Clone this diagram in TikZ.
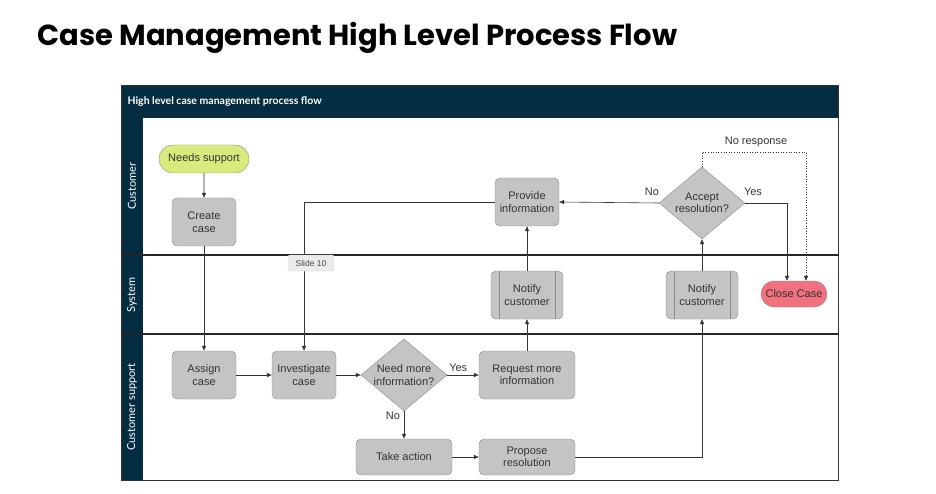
\documentclass[tikz,border=0pt]{standalone}
\usepackage{fontspec}
\setmainfont{Liberation Sans}
\newfontfamily\titlefont{Poppins}
\newfontfamily\lanefont{Lato}
\usetikzlibrary{shapes.geometric,shapes.misc,arrows.meta}
\definecolor{navy}{HTML}{052D42}
\definecolor{boxg}{HTML}{C4C4C4}
\definecolor{boxd}{HTML}{8A8A8A}
\definecolor{startc}{HTML}{D7EB7C}
\definecolor{endc}{HTML}{F2717F}
\begin{document}
\begin{tikzpicture}[x=1pt,y=-1pt,
  txt/.style={font=\fontsize{11}{12.5}\selectfont,text=black!80},
  box/.style={txt,draw=boxd,fill=boxg,rounded corners=5pt,minimum width=64pt,minimum height=48pt,align=center,inner sep=1pt},
  term/.style={txt,draw=boxd,rounded rectangle,minimum height=28pt,inner sep=3pt},
  dia/.style={txt,draw=boxd,fill=boxg,diamond,aspect=1.2,minimum width=86pt,minimum height=72pt,inner sep=0pt,align=center},
  arr/.style={draw=black!80,-{Triangle[length=5pt,width=4pt]},line width=0.6pt},
  lbl/.style={txt},
  lane/.style={font=\lanefont\fontsize{11}{12}\selectfont,text=white,rotate=90}]
\useasboundingbox (0,0) rectangle (936,494);
% title
\node[anchor=west,font=\titlefont\bfseries\fontsize{29}{32}\selectfont] (title) at (34,38) {Case Management High Level Process Flow};
% frame
\fill[navy] (121,85) rectangle (838,118);
\fill[navy] (121,118) rectangle (143,480);
\draw[line width=0.8pt,black!80] (121,85) rectangle (838,480);
\draw[line width=1.2pt,black!85] (121,255) -- (838,255);
\draw[line width=1.2pt,black!85] (121,334) -- (838,334);
\node[anchor=west,text=white,font=\lanefont\bfseries\fontsize{10.5}{12}\selectfont] (hdr) at (124,102) {High level case management process flow};
\node[lane] (l1) at (132,186) {Customer};
\node[lane] (l2) at (132,295) {System};
\node[lane] (l3) at (132,407) {Customer support};
% nodes
\node[term,fill=startc,minimum width=96pt] (needs) at (204,159) {Needs support};
\node[box] (create) at (204,222) {Create\\case};
\node[box] (provide) at (527,202) {Provide\\information};
\node[dia] (accept) at (702,203) {Accept\\resolution?};
\node[box,minimum width=72pt] (notify1) at (527,295) {Notify\\customer};
\node[box,minimum width=72pt] (notify2) at (702,295) {Notify\\customer};
\foreach \n in {notify1,notify2}{
  \draw[boxd] ([xshift=8pt]\n.north west) -- ([xshift=8pt]\n.south west);
  \draw[boxd] ([xshift=-8pt]\n.north east) -- ([xshift=-8pt]\n.south east);}
\node[term,fill=endc,minimum width=72pt,minimum height=26pt] (close) at (794,294) {Close Case};
\node[box] (assign) at (204,375) {Assign\\case};
\node[box] (invest) at (304,375) {Investigate\\case};
\node[dia] (need) at (404,375) {Need more\\information?};
\node[box,minimum width=96pt] (request) at (527,375) {Request more\\information};
\node[box,minimum width=96pt,minimum height=36pt] (take) at (404,457) {Take action};
\node[box,minimum width=96pt,minimum height=36pt] (propose) at (527,457) {Propose\\resolution};
% edges
\draw[arr] (needs) -- (create);
\draw[arr] (create) -- (assign);
\draw[arr] (assign) -- (invest);
\draw[arr] (invest) -- (need);
\draw[arr] (need) -- node[lbl,above,pos=0.35] (yes1) {Yes} (request);
\draw[arr] (need) -- (take);
\node[lbl] (no1) at (393,416) {No};
\draw[arr] (take) -- (propose);
\draw[arr] (propose.east) -| (notify2.south);
\draw[arr] (notify2) -- (accept);
\draw[arr] (request) -- (notify1);
\draw[arr] (notify1) -- (provide);
\draw[arr] (accept.west) -- (provide.east);
\node[lbl] (no2) at (652,192) {No};
\node[lbl] (yes2) at (753,192) {Yes};
\coordinate (yc) at (787,203);
\draw[arr] (accept.east) -- (yc) -- (yc |- close.north);
\coordinate (d1) at (702,152);
\coordinate (d2) at (806,152);
\draw[arr,dotted] (accept.north) -- (d1) -- (d2) -- (d2 |- close.north);
\node[lbl] (nr) at (756,142) {No response};
\coordinate (p1) at (304,202);
\draw[arr] (provide.west) -- (p1) -- (invest.north);
\node[fill=black!8,draw=black!15,rounded corners=2pt,font=\fontsize{8.5}{10}\selectfont,text=black!70,minimum width=46pt,minimum height=16pt] (slide) at (311,263) {Slide 10};
\end{tikzpicture}
\end{document}
